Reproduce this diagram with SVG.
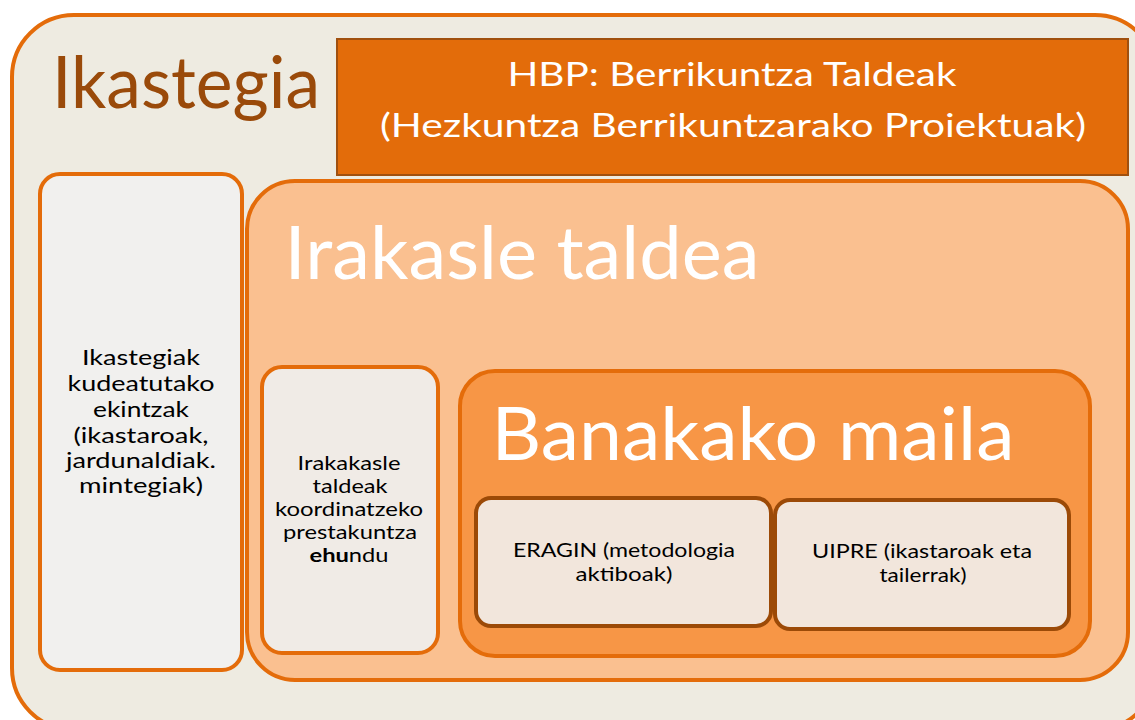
<svg xmlns="http://www.w3.org/2000/svg" width="1135" height="720" viewBox="0 0 1135 720">
<style>
text{font-family:Lato,"Open Sans","Liberation Sans",sans-serif;text-anchor:middle}
.big{fill:#fff}
.dark{fill:#000;font-size:21px}
.sm{fill:#000;font-size:19px}
.orange{stroke:#E46C0A;stroke-width:4}
</style>
<rect width="1135" height="720" fill="#fff"/>
<g id="ikastegia">
<rect x="12" y="15" width="1145" height="715" rx="62" fill="#EEEBE1" class="orange"/>
<text x="186" y="108" style="font-size:72px;fill:#9A4A0A;text-anchor:middle" textLength="268" lengthAdjust="spacingAndGlyphs">Ikastegia</text>
</g>
<g id="hbp">
<rect x="337" y="39" width="791" height="136" fill="#E36C0A" stroke="#A0500F" stroke-width="2"/>
<text class="big" x="732" y="86" style="font-size:33px" textLength="449" lengthAdjust="spacingAndGlyphs">HBP: Berrikuntza Taldeak</text>
<text class="big" x="733" y="137" style="font-size:33px" textLength="706" lengthAdjust="spacingAndGlyphs">(Hezkuntza Berrikuntzarako Proiektuak)</text>
</g>
<g id="ikastegiak-ekintzak">
<rect x="40" y="174" width="202" height="496" rx="20" fill="#F1F0EE" class="orange"/>
<text class="dark" x="141" y="365" textLength="118" lengthAdjust="spacingAndGlyphs">Ikastegiak</text>
<text class="dark" x="141" y="391" textLength="147" lengthAdjust="spacingAndGlyphs">kudeatutako</text>
<text class="dark" x="141" y="417" textLength="96" lengthAdjust="spacingAndGlyphs">ekintzak</text>
<text class="dark" x="141" y="443" textLength="135" lengthAdjust="spacingAndGlyphs">(ikastaroak,</text>
<text class="dark" x="141" y="468" textLength="150" lengthAdjust="spacingAndGlyphs">jardunaldiak.</text>
<text class="dark" x="141" y="493" textLength="124" lengthAdjust="spacingAndGlyphs">mintegiak)</text>
</g>
<g id="irakasle-taldea">
<rect x="247" y="181" width="881" height="499" rx="48" fill="#FAC090" class="orange"/>
<text class="big" x="522" y="279" style="font-size:74px" textLength="475" lengthAdjust="spacingAndGlyphs">Irakasle taldea</text>
</g>
<g id="koordinatzeko">
<rect x="262" y="367" width="176" height="286" rx="20" fill="#F0EBE6" class="orange"/>
<text class="sm" x="349" y="470" textLength="103" lengthAdjust="spacingAndGlyphs">Irakakasle</text>
<text class="sm" x="350" y="493" textLength="75" lengthAdjust="spacingAndGlyphs">taldeak</text>
<text class="sm" x="349" y="516" textLength="148" lengthAdjust="spacingAndGlyphs">koordinatzeko</text>
<text class="sm" x="350" y="539" textLength="134" lengthAdjust="spacingAndGlyphs">prestakuntza</text>
<text class="sm" x="349" y="562" textLength="79" lengthAdjust="spacingAndGlyphs"><tspan font-weight="bold">ehu</tspan>ndu</text>
</g>
<g id="banakako-maila">
<rect x="460" y="371" width="630" height="285" rx="35" fill="#F79646" class="orange"/>
<text class="big" x="753" y="460" style="font-size:74px" textLength="523" lengthAdjust="spacingAndGlyphs">Banakako maila</text>
</g>
<g id="eragin">
<rect x="476" y="498" width="295" height="128" rx="15" fill="#F2E6DC" stroke="#9C4A07" stroke-width="4"/>
<text class="sm" x="624" y="557" textLength="222" lengthAdjust="spacingAndGlyphs">ERAGIN (metodologia</text>
<text class="sm" x="624" y="581" textLength="97" lengthAdjust="spacingAndGlyphs">aktiboak)</text>
</g>
<g id="uipre">
<rect x="775" y="500" width="294" height="129" rx="15" fill="#F2E6DC" stroke="#9C4A07" stroke-width="4"/>
<text class="sm" x="922" y="558" textLength="220" lengthAdjust="spacingAndGlyphs">UIPRE (ikastaroak eta</text>
<text class="sm" x="923" y="582" textLength="87" lengthAdjust="spacingAndGlyphs">tailerrak)</text>
</g>
<g id="connectors"/>
</svg>
